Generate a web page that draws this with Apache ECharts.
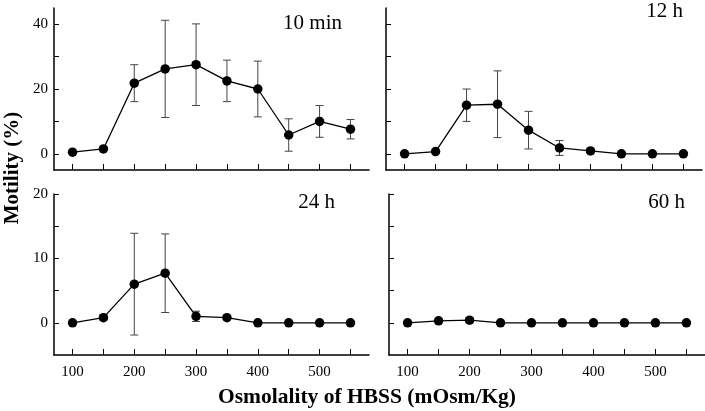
<!DOCTYPE html>
<html><head><meta charset="utf-8">
<script src="https://cdn.jsdelivr.net/npm/echarts@6/dist/echarts.min.js"></script>
<style>html,body{margin:0;padding:0;background:#fff}#c{width:705px;height:411px}</style>
</head><body><div id="c"></div>
<script>
const osmolality = [100,150,200,250,300,350,400,450,500,550];
const xTicks = [100,150,200,250,300,350,400,450,500,550];
const xLabels = [100,200,300,400,500];
const panelNames = ['10 min','12 h','24 h','60 h'];
const mean10min = [0.5,1.5,21.8,26.2,27.5,22.5,20.0,5.8,10.0,7.6];
const err10min  = [0.3,0.4,5.7,15.0,12.6,6.4,8.6,5.0,4.9,3.0];
const mean12h   = [0,0.7,15.0,15.3,7.3,1.8,0.9,0,0,0];
const err12h    = [0,0,5.0,10.3,5.8,2.3,0.7,0,0,0];
const mean24h   = [0,0.8,6.0,7.7,1.0,0.8,0,0,0,0];
const err24h    = [0,0.4,7.9,6.1,0.8,0.3,0,0,0,0];
const mean60h   = [0,0.3,0.4,0,0,0,0,0,0,0];
const err60h    = [0,0.3,0.4,0,0,0,0,0,0,0];
const yTopTicks = [0,10,20,30,40], yTopLabels = [0,20,40];
const yBotTicks = [0,5,10,15,20], yBotLabels = [0,10,20];

const FONT = '"Liberation Serif","Times New Roman",serif';
const grids = [
  {left:54, top:8, width:315, height:162},
  {left:386, top:8, width:316, height:162},
  {left:54, top:194, width:315, height:161},
  {left:389, top:194, width:316, height:161}
];
const axisLineStyle = {color:'#000', width:1.5};
function xAxis(i, showLabels){
  return {type:'value', gridIndex:i, min:70, max:580,
    axisLine:{show:true, onZero:false, lineStyle:axisLineStyle},
    axisTick:{show:true, inside:true, length:6, customValues:xTicks, lineStyle:{color:'#000', width:1}},
    axisLabel:{show:showLabels, customValues:xLabels, margin:10, color:'#000', fontFamily:FONT, fontSize:15},
    splitLine:{show:false}};
}
function yAxis(i, min, max, ticks, labels, showLabels){
  return {type:'value', gridIndex:i, min:min, max:max,
    axisLine:{show:true, onZero:false, lineStyle:axisLineStyle},
    axisTick:{show:true, inside:true, length:5, customValues:ticks, lineStyle:{color:'#000', width:1}},
    axisLabel:{show:showLabels, customValues:labels, margin:6, color:'#000', fontFamily:FONT, fontSize:15},
    splitLine:{show:false}};
}
const means = [mean10min, mean12h, mean24h, mean60h];
const errs = [err10min, err12h, err24h, err60h];
const series = [];
means.forEach((m, i) => {
  const e = errs[i];
  series.push({type:'custom', xAxisIndex:i, yAxisIndex:i, z:1,
    data: osmolality.map((x, k) => [x, m[k]-e[k], m[k]+e[k]]),
    encode:{x:0, y:[1,2]},
    renderItem: function(params, api){
      const x = api.value(0), lo = api.value(1), hi = api.value(2);
      if (hi - lo <= 0) return null;
      const p1 = api.coord([x, hi]), p2 = api.coord([x, lo]);
      const w = 4, st = {stroke:'#444', lineWidth:1};
      return {type:'group', children:[
        {type:'line', shape:{x1:p1[0], y1:p1[1], x2:p2[0], y2:p2[1]}, style:st},
        {type:'line', shape:{x1:p1[0]-w, y1:p1[1], x2:p1[0]+w, y2:p1[1]}, style:st},
        {type:'line', shape:{x1:p2[0]-w, y1:p2[1], x2:p2[0]+w, y2:p2[1]}, style:st}
      ]};
    }});
  series.push({type:'line', xAxisIndex:i, yAxisIndex:i, z:3,
    data: osmolality.map((x, k) => [x, m[k]]),
    symbol:'circle', symbolSize:9.5, showSymbol:true,
    itemStyle:{color:'#000'}, lineStyle:{color:'#000', width:1.3}});
});
const labelPos = [[342,23],[683,11],[335,202],[685,202]];
const graphic = panelNames.map((t, i) => ({type:'text', x:labelPos[i][0], y:labelPos[i][1],
  style:{text:t, fill:'#000', font:'21px ' + FONT, textAlign:'right', textVerticalAlign:'middle'}}));
graphic.push({type:'text', x:13, y:168, rotation:Math.PI/2,
  style:{text:'Motility (%)', fill:'#000', font:'bold 21px ' + FONT, textAlign:'center', textVerticalAlign:'middle'}});
graphic.push({type:'text', x:367, y:397,
  style:{text:'Osmolality of HBSS (mOsm/Kg)', fill:'#000', font:'bold 21.5px ' + FONT, textAlign:'center', textVerticalAlign:'middle'}});

const chart = echarts.init(document.getElementById('c'), null, {renderer:'canvas'});
chart.setOption({
  animation:false, backgroundColor:'#fff',
  grid: grids,
  xAxis:[xAxis(0,false), xAxis(1,false), xAxis(2,true), xAxis(3,true)],
  yAxis:[yAxis(0,-5,45,yTopTicks,yTopLabels,true), yAxis(1,-5,45,yTopTicks,yTopLabels,false),
         yAxis(2,-5,20,yBotTicks,yBotLabels,true), yAxis(3,-5,20,yBotTicks,yBotLabels,false)],
  series: series,
  graphic: graphic
});
</script></body></html>
